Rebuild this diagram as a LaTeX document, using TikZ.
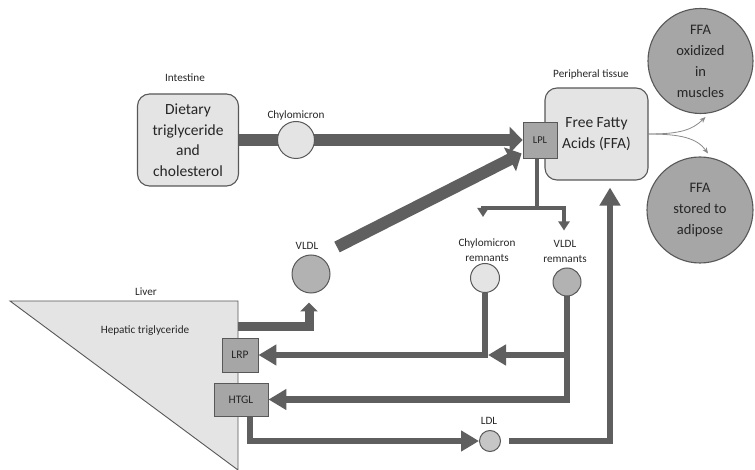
\documentclass[tikz,border=0pt]{standalone}
\usepackage{fontspec}
\setmainfont{Carlito}
\usetikzlibrary{arrows.meta,backgrounds,calc}
\definecolor{flow}{HTML}{5F5F5F}
\definecolor{edge}{HTML}{585858}
\definecolor{pale}{HTML}{E4E4E4}
\definecolor{mid}{HTML}{A6A6A6}
\definecolor{vgray}{HTML}{B2B2B2}
\definecolor{lgray}{HTML}{C6C6C6}
\definecolor{fine}{HTML}{8A8A8A}
\definecolor{ink}{HTML}{262626}

\begin{document}
\begin{tikzpicture}[x=1pt,y=-1pt,
  tissue/.style={draw=edge, line width=1.1pt, fill=pale, rounded corners=12pt,
    align=center, text=ink, font=\fontsize{15.5}{20.5}\selectfont, inner sep=0pt},
  enzyme/.style={draw=edge, line width=0.9pt, fill=mid, inner sep=0pt,
    text=ink, font=\fontsize{11.5}{13}\selectfont},
  particle/.style={circle, draw=edge, line width=1pt, inner sep=0pt},
  fate/.style={circle, draw=edge, line width=1.1pt, fill=mid, inner sep=0pt,
    minimum size=105pt, align=center, text=ink, font=\fontsize{14.5}{21}\selectfont},
  lbl/.style={font=\fontsize{11.2}{15}\selectfont, text=ink, inner sep=0pt, align=center},
  bigflow/.style={draw=flow, line width=12pt, -{Triangle[length=13pt,width=26pt]}},
  midflow/.style={draw=flow, line width=9pt, -{Triangle[length=9pt,width=17pt]}},
  retflow/.style={draw=flow, line width=6.5pt, -{Triangle[length=18pt,width=20pt]}},
  forkflow/.style={draw=flow, line width=4pt, -{Triangle[length=9pt,width=11pt]}},
  fineflow/.style={draw=fine, line width=0.8pt, -{Stealth[length=6pt,width=5pt]}},
]
\useasboundingbox (0,0) rectangle (755,470);

% ---- compartments ----
\node[tissue, minimum width=101pt, minimum height=92pt] (diet) at (188,140)
  {Dietary\\triglyceride\\and\\cholesterol};
\node[tissue, minimum width=103pt, minimum height=92pt] (ffa) at (596.5,134)
  {Free Fatty\\Acids (FFA)};
\node[enzyme, minimum width=34pt, minimum height=36pt,
  font=\fontsize{10.5}{12}\selectfont] (lpl) at (540,140) {LPL};

\node[fate] (oxid) at (700.5,61) {FFA\\oxidized\\in\\muscles};
\node[fate, minimum size=106pt] (store) at (700,210) {FFA\\stored to\\adipose};

% ---- lipoprotein particles ----
\node[particle, fill=pale, minimum size=37pt] (chylo) at (296,140) {};
\node[particle, fill=vgray, minimum size=38pt] (vldl) at (311,274) {};
\node[particle, fill=pale, minimum size=29pt] (crem) at (485,278) {};
\node[particle, fill=vgray, minimum size=28pt] (vrem) at (567,282) {};
\node[particle, fill=lgray, minimum size=21pt] (ldl) at (490,441) {};

% ---- liver receptors ----
\node[enzyme, minimum width=36pt, minimum height=34pt] (lrp) at (240,355) {LRP};
\node[enzyme, minimum width=54pt, minimum height=33pt] (htgl) at (241,399.5) {HTGL};

% ---- labels ----
\node[lbl] (intestinelbl) at (185,78) {Intestine};
\node[lbl] (chylolbl) at (296,116) {Chylomicron};
\node[lbl] (periplbl) at (591,75) {Peripheral tissue};
\node[lbl] (vldllbl) at (307,246) {VLDL};
\node[lbl] (cremlbl) at (487,250.5) {Chylomicron\\remnants};
\node[lbl] (vremlbl) at (565,251) {VLDL\\remnants};
\node[lbl] (ldllbl) at (489,421) {LDL};
\node[lbl] (liverlbl) at (146,292) {Liver};

% ---- liver and flows, behind the nodes ----
\begin{pgfonlayer}{background}
  \draw[edge, line width=0.9pt, fill=pale] (10,301) coordinate (livertl)
    -- (238,301) coordinate (livertr) -- (238,470) coordinate (liverbot) -- cycle;
  \node[lbl] (hepatic) at (145,331) {Hepatic triglyceride};

  % dietary fat carried by chylomicrons to LPL
  \draw[bigflow] (diet.east) -- (lpl.west);
  % VLDL delivered to LPL
  \coordinate (vldlout) at ($(vldl.center)+(26,-27)$);
  \draw[bigflow] (vldlout) -- ($(lpl.south west)+(-1,-5)$);

  % liver exports VLDL
  \coordinate (liverexit) at (238,327);
  \draw[midflow] (liverexit) -| ($(vldl.south)+(-2,9)$);

  % LPL releases remnants
  \coordinate (fork) at ($(lpl.south)+(-3,50)$);
  \draw[draw=flow, line width=4pt] ($(lpl.south)+(-3,0)$) -- (fork);
  \draw[forkflow] (fork) -| ($(crem.north)+(-2,-46)$);
  \draw[forkflow] (fork) -| ($(vrem.north)+(-3,-37)$);

  % remnants return to the liver
  \draw[retflow] (crem.south) |- (lrp.east);
  \draw[retflow] (vrem.south) |- (htgl.east);
  \draw[retflow] (vrem.south |- lrp.east) -- ($(crem.south |- lrp.east)+(3,0)$);

  % HTGL produces LDL, LDL supplies peripheral tissue
  \draw[retflow] ($(htgl.south)+(9,0)$) |- (ldl.west);
  \draw[retflow] ($(ldl.east)+(8,0)$) -| ($(ffa.south)+(13.5,7)$);

  % fates of free fatty acids
  \draw[fineflow] (ffa.east) .. controls (680,134) and (692,130) .. ($(oxid.south)+(5,3)$);
  \draw[fineflow] (ffa.east) .. controls (680,134) and (697,138) .. ($(store.north)+(8,-3)$);
\end{pgfonlayer}
\end{tikzpicture}
\end{document}
